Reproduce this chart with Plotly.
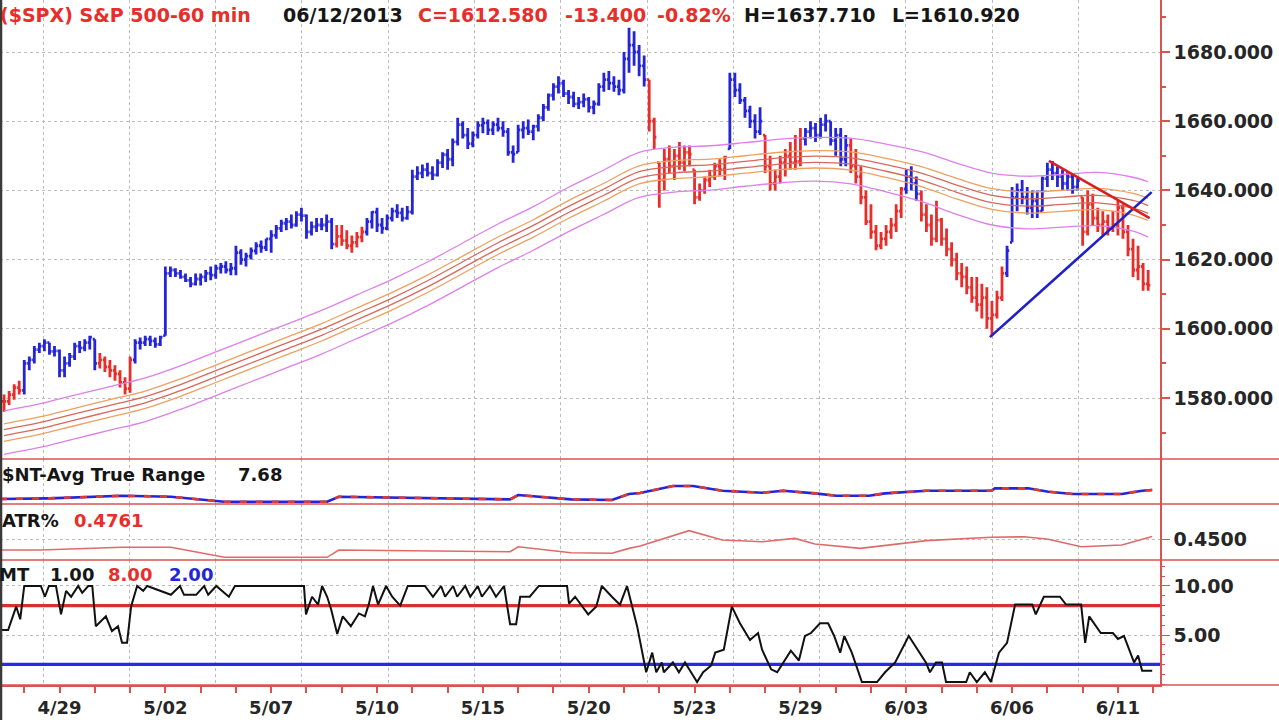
import plotly.graph_objects as go

# ---------------- data ----------------
DAYS = ['4/26', '4/29', '4/30', '5/01', '5/02', '5/03', '5/06', '5/07', '5/08', '5/09',
        '5/10', '5/13', '5/14', '5/15', '5/16', '5/17', '5/20', '5/21', '5/22', '5/23',
        '5/24', '5/28', '5/29', '5/30', '5/31', '6/03', '6/04', '6/05', '6/06', '6/07',
        '6/10', '6/11', '6/12']
BARS_PER_DAY = 7
FIRST_BAR = 3          # data starts with the 4th hourly bar of 4/26
LABEL_EVERY = 3
LABEL_OFFSET = 1

HIGH = [
    1581, 1582, 1584, 1585,
    1591, 1592, 1595, 1596, 1597, 1596, 1595,
    1594, 1592, 1593, 1596, 1596.5, 1597, 1598,
    1597, 1593, 1592, 1591, 1589.5, 1588, 1586,
    1592, 1597, 1597.5, 1598, 1598, 1597.5, 1598,
    1618, 1618, 1617.5, 1617, 1616, 1615, 1616,
    1616, 1617, 1618, 1618.5, 1619, 1619.5, 1619,
    1624, 1623, 1622, 1623.5, 1625, 1625.5, 1626,
    1628.5, 1630, 1631.5, 1632, 1633, 1634, 1635,
    1633, 1631, 1632, 1632, 1633, 1632, 1630,
    1630, 1628.5, 1627, 1628, 1629.5, 1632, 1634,
    1635, 1632, 1633, 1635, 1636, 1635, 1635.5,
    1646, 1647, 1647.5, 1648, 1647, 1649, 1651,
    1652, 1655, 1661, 1660, 1658, 1657, 1660,
    1661, 1660.5, 1660, 1661, 1660, 1658, 1653,
    1659, 1660, 1660.5, 1659, 1662, 1665, 1668,
    1671, 1673, 1672, 1669, 1668.5, 1667, 1668,
    1667, 1666, 1671, 1674, 1674.5, 1673, 1672,
    1680, 1687, 1686, 1682, 1679, 1672, 1661,
    1648, 1652, 1653, 1652, 1654, 1653, 1653,
    1646, 1642, 1644, 1646, 1648, 1649, 1650,
    1674, 1674, 1671, 1667, 1664.5, 1662, 1664,
    1656, 1650, 1646, 1650, 1652, 1654, 1656,
    1658, 1658, 1660, 1659.5, 1661, 1662, 1660,
    1658, 1658, 1656, 1655, 1652, 1647, 1640,
    1636, 1630, 1628, 1630, 1632, 1636, 1641,
    1646, 1647, 1644, 1640, 1636, 1633, 1637,
    1632, 1629, 1625, 1622, 1619, 1618, 1615,
    1615, 1613, 1612, 1608, 1611, 1618, 1624,
    1641, 1642, 1643, 1641, 1640, 1640, 1644,
    1648, 1648.5, 1647, 1646, 1645.5, 1645, 1644,
    1638, 1640, 1639, 1635, 1634, 1633, 1634,
    1637, 1636, 1630, 1626, 1624, 1619, 1617,
]
LOW = [
    1576, 1578, 1579.5, 1581,
    1581, 1588, 1590, 1593, 1593.5, 1592.5, 1592,
    1586, 1586, 1589, 1591, 1593, 1593.5, 1594,
    1588, 1588.5, 1587.5, 1586, 1585, 1583, 1581,
    1581.5, 1590, 1594, 1595, 1595, 1594.5, 1595,
    1598, 1615, 1615, 1614.5, 1613.5, 1612, 1612.5,
    1612.5, 1613.5, 1614, 1614.5, 1616, 1616, 1615.5,
    1615.5, 1618.5, 1618, 1620, 1621.5, 1622, 1622.5,
    1622, 1626, 1628, 1628.5, 1629, 1629.5, 1631,
    1626, 1627, 1628, 1628.5, 1628, 1623, 1623.5,
    1624, 1623, 1622, 1623.5, 1625, 1627, 1629,
    1628, 1627.5, 1628.5, 1631, 1632, 1631, 1631.5,
    1633, 1643, 1643.5, 1644, 1643, 1644, 1646.5,
    1646, 1647, 1653, 1655, 1652, 1652.5, 1655,
    1656.5, 1656, 1656, 1657, 1655.5, 1650, 1648,
    1651, 1655, 1656, 1654.5, 1657, 1660, 1663,
    1666, 1668, 1667, 1665, 1664, 1663.5, 1664,
    1662.5, 1662, 1664.5, 1668.5, 1669, 1668.5, 1667.5,
    1668, 1674, 1676, 1673, 1670, 1657, 1652,
    1635, 1640, 1645, 1643, 1646, 1645.5, 1647,
    1636, 1637, 1639, 1641, 1643, 1644, 1643,
    1652, 1667, 1665, 1661, 1658, 1655, 1656,
    1645, 1640, 1640, 1642, 1644, 1646, 1646,
    1647, 1653, 1655, 1654, 1655, 1657, 1653,
    1650, 1647, 1647, 1645, 1642, 1636, 1630,
    1626, 1622.7, 1623, 1624, 1626, 1628, 1632,
    1639, 1640, 1637, 1631, 1628, 1624, 1625,
    1624, 1621, 1618, 1614, 1612, 1610, 1607.5,
    1605, 1603, 1600, 1598, 1603, 1608, 1615,
    1625, 1634, 1636, 1633, 1632, 1632, 1634,
    1641, 1643, 1641, 1640, 1640, 1639, 1640,
    1624, 1627, 1630, 1628, 1627, 1627, 1628,
    1627, 1626, 1621, 1615, 1614, 1611, 1611,
]
CLOSE = [
    1579, 1581, 1583, 1582.2,
    1590, 1591, 1594, 1595, 1596, 1593.5, 1593.6,
    1588, 1590, 1592, 1595, 1594.5, 1596, 1597.6,
    1590, 1591, 1589, 1588, 1587, 1584.5, 1582.7,
    1591, 1596, 1596, 1597, 1596.5, 1595.5, 1597.6,
    1616, 1617, 1616, 1615, 1614, 1613, 1614.4,
    1615, 1616, 1615.5, 1617.5, 1618, 1617, 1617.5,
    1622, 1620, 1621, 1622.5, 1624, 1623.5, 1626,
    1627, 1629, 1630.5, 1631, 1630, 1633, 1632.7,
    1628, 1629.5, 1630, 1630, 1631, 1624.5, 1626.7,
    1625.5, 1624, 1625, 1626.5, 1628, 1631, 1633.7,
    1630, 1629, 1632, 1634, 1633.5, 1632, 1633.8,
    1644, 1645, 1646, 1645, 1644.5, 1648, 1650.3,
    1649, 1654, 1659, 1656, 1653.5, 1656, 1658.8,
    1659.5, 1657.5, 1659, 1658, 1657, 1651, 1650.5,
    1657.5, 1658, 1657, 1658.5, 1661, 1664, 1667.5,
    1670, 1671, 1668, 1667, 1665, 1665.5, 1666.3,
    1664, 1665, 1670, 1672, 1671, 1670, 1669,
    1678, 1682, 1680, 1676, 1672, 1660, 1655.4,
    1643, 1649, 1647, 1650, 1648, 1651, 1650.5,
    1638, 1640, 1643, 1644, 1647, 1646, 1649.6,
    1672, 1669, 1666, 1663, 1660, 1657, 1660,
    1647, 1642, 1644, 1648, 1650, 1648, 1648.4,
    1655, 1657, 1658, 1656, 1659, 1660, 1654.4,
    1656, 1649, 1653, 1647, 1644, 1638, 1631,
    1628, 1624, 1626, 1628, 1630, 1634, 1640.4,
    1644, 1642, 1639, 1633, 1630, 1626, 1631.4,
    1626, 1623, 1620, 1616, 1615, 1612, 1609,
    1607, 1609, 1603, 1604, 1609, 1616, 1622.6,
    1638, 1640, 1638, 1635, 1637, 1634, 1643.4,
    1646, 1645, 1644, 1642, 1644, 1641, 1642.8,
    1628, 1636, 1632, 1630, 1631, 1629, 1630,
    1635, 1628, 1623, 1617, 1618, 1613, 1612.6,
]
# bar colour runs: 'b' = up-trend (blue), 'r' = down-trend (red)
COLOR_RUNS = [('r', 4), ('b', 15), ('r', 7), ('b', 40), ('r', 6), ('b', 56), ('r', 16),
              ('b', 7), ('r', 8), ('b', 9), ('r', 11), ('b', 3), ('r', 17), ('b', 15), ('r', 14)]

# envelope: mid line and outer half width, sampled mid-day (plus last bar)
BAND_MID = [1570, 1572, 1574.5, 1577, 1579.5, 1583, 1587, 1591, 1595, 1599, 1603.5,
            1608, 1613, 1618.5, 1624, 1629, 1634.5, 1639.5, 1644.5, 1646, 1646.5,
            1647.5, 1648.5, 1649, 1648.5, 1646.5, 1644, 1640.5, 1637.5, 1636.5, 1637,
            1637.5, 1636, 1634.5]
BAND_HALF = [6.3, 6.3, 6.3, 6.3, 6.3, 6.3, 6.3, 6.3, 6.3, 6.3, 6.3, 6.3, 6.3, 6.3, 6.3,
             6.3, 6.4, 6.4, 6.5, 6.5, 6.4, 6.3, 6.3, 6.3, 6.6, 6.9, 7.2, 7.4, 7.5, 7.6,
             7.6, 7.7, 7.8, 8.0]
BAND_INNER = [0.40, 0.14]

TREND_UP_X = [198.6, 230.7]
TREND_UP_Y = [1597.6, 1639.5]
TREND_DN_X = [210.3, 230.3]
TREND_DN_Y = [1648.5, 1632.0]

ATR_X = [2.2, 11.9, 26.4, 36.1, 46.7, 67.1, 69.4, 83.2, 103.4, 105.0, 115.5, 123.6, 127.0,
         129.2, 135.7, 139.7, 145.5, 153.4, 157.6, 163.9, 168.1, 174.6, 177.8, 186.0, 198.9,
         199.6, 206.2, 210.2, 215.1, 224.8, 228.8, 230.8]
ATR_V = [5.27, 5.45, 6.15, 5.88, 4.54, 4.54, 5.88, 5.62, 5.18, 6.34, 5.18, 5.0, 6.61,
         6.88, 8.75, 8.75, 7.5, 6.96, 7.5, 6.78, 6.15, 6.15, 6.78, 7.5, 7.5,
         8.13, 8.13, 7.23, 6.61, 6.61, 7.5, 7.68]

ATRP_X = [2.2, 10.3, 26.4, 36.1, 46.7, 67.1, 69.4, 83.2, 103.4, 105.0, 115.5, 123.6, 127.0,
          129.2, 138.9, 145.5, 153.4, 159.9, 163.9, 172.9, 186.0, 198.9, 205.4, 210.2,
          216.7, 224.8, 230.4, 230.8]
ATRP_V = [0.359, 0.359, 0.382, 0.382, 0.295, 0.295, 0.359, 0.353, 0.344, 0.387, 0.335,
          0.330, 0.373, 0.393, 0.527, 0.446, 0.431, 0.460, 0.411, 0.373, 0.440, 0.469,
          0.474, 0.452, 0.387, 0.402, 0.469, 0.476]

MT_X = [2.2, 3.8, 5.4, 6.2, 7.0, 10.3, 11.1, 11.9, 13.3, 14.3, 15.3, 16.3, 17.7, 18.5, 19.7,
        20.5, 21.2, 23.2, 24.4, 25.6, 26.4, 27.4, 28.2, 29.4, 30.6, 31.4, 36.1, 37.9, 38.7,
        41.1, 42.7, 43.5, 45.1, 47.6, 48.8, 62.5, 62.9, 64.1, 65.3, 66.1, 67.1, 67.9, 69.1,
        70.2, 71.8, 73.4, 74.6, 75.4, 76.2, 77.2, 78.8, 80.0, 81.6, 83.1, 86.5, 88.1, 89.7,
        90.5, 92.1, 92.9, 94.5, 95.5, 97.0, 97.8, 99.4, 100.6, 102.2, 103.4, 104.6, 105.4,
        107.3, 109.1, 114.7, 115.1, 116.3, 118.9, 120.5, 121.6, 123.6, 125.2, 126.6, 128.6,
        130.4, 131.6, 132.4, 133.5, 133.9, 135.7, 136.9, 138.1, 139.3, 140.5, 141.7, 143.3,
        144.1, 145.8, 147.4, 149.0, 151.0, 152.6, 153.4, 155.2, 156.4, 157.6, 159.1, 160.7,
        161.9, 163.1, 164.9, 166.5, 167.7, 168.9, 169.7, 171.2, 173.2, 176.2, 177.8, 179.8,
        182.5, 185.9, 186.7, 187.9, 189.1, 189.9, 193.9, 194.6, 196.0, 197.6, 198.8, 200.4,
        202.0, 203.6, 207.0, 207.7, 209.3, 212.5, 213.7, 216.7, 217.5, 218.3, 220.6, 223.0,
        224.0, 225.2, 227.2, 228.0, 228.8, 230.8]
MT_V = [5.5, 5.5, 7.9, 6.6, 10, 10, 8.9, 10, 10, 7.1, 9.5, 8.9, 10, 9.3, 10,
        10, 5.9, 6.9, 5.4, 5.9, 4.2, 4.2, 7.9, 10, 9.5, 10, 9.1, 10, 9.1,
        9.1, 10, 9.1, 10, 8.9, 10, 10, 7.1, 8.9, 8.1, 10, 8.9, 7.6, 5.1,
        6.9, 5.9, 7.2, 6.9, 8.2, 10, 8.1, 10, 8.9, 8.0, 10, 10, 8.9, 10,
        8.9, 10, 8.9, 10, 8.9, 10, 8.9, 10, 8.9, 10, 6.1, 6.1, 8.9,
        8.9, 10, 10, 8.2, 8.9, 7.1, 7.9, 10, 8.9, 8.1, 10, 5.9,
        1.2, 3.2, 1.2, 2.2, 1.2, 2.2, 1.2, 2.2, 1.2, 0.2, 1.2, 1.9,
        3.2, 3.5, 7.9, 6.2, 4.5, 5.2, 3.5, 1.5, 1.2, 2.2, 3.4, 2.4,
        4.9, 5.2, 6.2, 6.2, 4.9, 3.2, 4.9, 3.2, 0.2, 0.2, 1.2, 2.2,
        4.9, 2.2, 1.2, 2.2, 2.2, 0.2, 0.2, 1.2, 0.2, 1.2, 0.2, 3.2,
        4.2, 8.1, 8.1, 7.1, 8.9, 8.9, 8.1, 8.1, 4.2, 6.9, 5.2, 5.2,
        4.6, 4.9, 2.2, 2.9, 1.35, 1.35]
MT_UPPER = 8
MT_LOWER = 2

PRICE_TICK0, PRICE_DTICK = 1580, 20
ATRP_TICKS = [0.45]
MT_TICKS = [5, 10]

# ---------------- styles ----------------
W, H = 1279, 720
PLOT_RIGHT = 1160
BLUE = '#2525d8'
RED = '#e82e2a'
AXRED = '#d9534f'
GRID = '#bdbdbd'
PINK = '#dd80ea'
INNER_COLS = ['#eea060', '#d8685c', '#d8685c', '#eea060']
FONT = 'DejaVu Sans'
X_RANGE = [2.19, 232.35]

def py(px):
    return 1 - px / H

# ---------------- derived ----------------
n = len(CLOSE)
xs = [FIRST_BAR + k for k in range(n)]
colors = []
for c, cnt in COLOR_RUNS:
    colors += [c] * cnt
opens = []
for k in range(n):
    prev = CLOSE[k - 1] if k > 0 else CLOSE[0]
    opens.append(min(max(prev, LOW[k]), HIGH[k]))

band_x = [BARS_PER_DAY * d + 3 for d in range(len(DAYS))] + [xs[-1]]

fig = go.Figure()

# envelope lines
band_lines = [(1.0, PINK), (BAND_INNER[0], INNER_COLS[0]), (BAND_INNER[1], INNER_COLS[1]),
              (-BAND_INNER[1], INNER_COLS[2]), (-BAND_INNER[0], INNER_COLS[3]), (-1.0, PINK)]
for f, col in band_lines:
    fig.add_trace(go.Scatter(x=band_x, y=[m + f * h for m, h in zip(BAND_MID, BAND_HALF)],
                             mode='lines', line=dict(color=col, width=1.3, shape='spline'),
                             hoverinfo='skip', showlegend=False, xaxis='x', yaxis='y'))

# price bars
for ckey, col in [('b', BLUE), ('r', RED)]:
    idx = [k for k in range(n) if colors[k] == ckey]
    fig.add_trace(go.Ohlc(
        x=[xs[k] for k in idx], open=[opens[k] for k in idx], high=[HIGH[k] for k in idx],
        low=[LOW[k] for k in idx], close=[CLOSE[k] for k in idx],
        increasing=dict(line=dict(color=col, width=2.8)),
        decreasing=dict(line=dict(color=col, width=2.8)),
        tickwidth=0.42, hoverinfo='skip', showlegend=False, xaxis='x', yaxis='y'))

# trend lines
fig.add_trace(go.Scatter(x=TREND_UP_X, y=TREND_UP_Y, mode='lines',
                         line=dict(color='#2020c8', width=2.6), hoverinfo='skip',
                         showlegend=False, xaxis='x', yaxis='y'))
fig.add_trace(go.Scatter(x=TREND_DN_X, y=TREND_DN_Y, mode='lines',
                         line=dict(color='#d82020', width=2.6), hoverinfo='skip',
                         showlegend=False, xaxis='x', yaxis='y'))

# ATR panel
fig.add_trace(go.Scatter(x=ATR_X, y=ATR_V, mode='lines', line=dict(color=BLUE, width=2.6),
                         hoverinfo='skip', showlegend=False, xaxis='x', yaxis='y2'))
fig.add_trace(go.Scatter(x=ATR_X, y=ATR_V, mode='lines',
                         line=dict(color='#e23a2a', width=2.6, dash='7px,9px'),
                         hoverinfo='skip', showlegend=False, xaxis='x', yaxis='y2'))

# ATR% panel
fig.add_trace(go.Scatter(x=ATRP_X, y=ATRP_V, mode='lines', line=dict(color='#e06a6a', width=1.6),
                         hoverinfo='skip', showlegend=False, xaxis='x', yaxis='y3'))

# MT panel
for lvl, col in [(MT_UPPER, '#d83030'), (MT_LOWER, '#2a2ae6')]:
    fig.add_trace(go.Scatter(x=X_RANGE, y=[lvl, lvl], mode='lines',
                             line=dict(color=col, width=3.2), hoverinfo='skip',
                             showlegend=False, xaxis='x', yaxis='y4'))
fig.add_trace(go.Scatter(x=MT_X, y=MT_V, mode='lines', line=dict(color='#111111', width=2),
                         hoverinfo='skip', showlegend=False, xaxis='x', yaxis='y4'))

# ---------------- layout ----------------
tickvals = [BARS_PER_DAY * d + 7 for d in range(len(DAYS))]
ticktext = [DAYS[d] if d % LABEL_EVERY == LABEL_OFFSET else '' for d in range(len(DAYS))]

tickfont = dict(family=FONT, size=19, color='#262626', weight='bold')
common_y = dict(side='right', anchor='x', showline=True, linecolor=AXRED, linewidth=1.5,
                zeroline=False, fixedrange=True, tickfont=tickfont)

fig.update_layout(
    width=W, height=H, margin=dict(l=0, r=0, t=0, b=0),
    paper_bgcolor='white', plot_bgcolor='white', showlegend=False,
    xaxis=dict(domain=[0, PLOT_RIGHT / W], range=X_RANGE, anchor='y4',
               tickmode='array', tickvals=tickvals, ticktext=ticktext,
               ticks='outside', ticklen=6, tickcolor=AXRED, tickwidth=1.5,
               showline=True, linecolor=AXRED, linewidth=1.5, showgrid=False,
               zeroline=False, fixedrange=True,
               tickfont=dict(family=FONT, size=18, color='#262626', weight='bold'),
               rangeslider=dict(visible=False),
               minor=dict(tickmode='linear', tick0=10.73, dtick=17.12, showgrid=True,
                          gridcolor=GRID, griddash='dot', gridwidth=1, ticks='')),
    yaxis=dict(domain=[py(459), 1.0], range=[1562.37, 1695.03],
               tickmode='linear', tick0=PRICE_TICK0, dtick=PRICE_DTICK, tickformat='.3f',
               ticks='outside', ticklen=8, tickcolor=AXRED, tickwidth=1.5,
               showgrid=True, gridcolor=GRID, griddash='dot',
               minor=dict(dtick=10, ticks='outside', ticklen=4, tickcolor=AXRED, showgrid=False),
               **common_y),
    yaxis2=dict(domain=[py(504), py(459)], range=[3.93, 16.0], showticklabels=False,
                ticks='', showgrid=False, **common_y),
    yaxis3=dict(domain=[py(560), py(504)], range=[0.2717, 0.7589], tickmode='array',
                tickvals=ATRP_TICKS, tickformat='.4f', ticks='outside', ticklen=8,
                tickcolor=AXRED, showgrid=True, gridcolor=GRID, griddash='dot', **common_y),
    yaxis4=dict(domain=[py(685), py(560)], range=[-0.1, 12.65], tickmode='array',
                tickvals=MT_TICKS, tickformat='.2f', ticks='outside', ticklen=8,
                tickcolor=AXRED, showgrid=True, gridcolor=GRID, griddash='dot',
                minor=dict(dtick=1, ticks='outside', ticklen=3, tickcolor=AXRED, showgrid=False),
                **common_y),
)

# panel separators and left edge
shapes = []
for yy in [459, 504, 560, 685]:
    shapes.append(dict(type='line', xref='paper', yref='paper', x0=0, x1=1, y0=py(yy), y1=py(yy),
                       line=dict(color=AXRED, width=1.6)))
shapes.append(dict(type='line', xref='paper', yref='paper', x0=0.0008, x1=0.0008, y0=0, y1=1,
                   line=dict(color='#3a3a3a', width=2.5)))
fig.update_layout(shapes=shapes)

# header and panel labels
def label(x_px, y_px, text, color, size=19):
    fig.add_annotation(xref='paper', yref='paper', x=x_px / W, y=py(y_px), text=text,
                       showarrow=False, xanchor='left', yanchor='middle',
                       font=dict(family=FONT, size=size, color=color, weight='bold'))

BLACK = '#161616'
label(-2, 15, '($SPX) S&P 500-60 min', RED)
label(281, 15, '06/12/2013', BLACK)
label(416, 15, 'C=1612.580', RED)
label(563, 15, '-13.400', RED)
label(655, 15, '-0.82%', RED)
label(742, 15, 'H=1637.710', BLACK)
label(890, 15, 'L=1610.920', BLACK)

label(0, 474, '$NT-Avg True Range', BLACK, 18)
label(236, 474, '7.68', BLACK, 18)
label(0, 520, 'ATR%', BLACK, 18)
label(72, 520, '0.4761', RED, 18)
label(-3, 574, 'MT', BLACK, 18)
label(48, 574, '1.00', BLACK, 18)
label(106, 574, '8.00', RED, 18)
label(167, 574, '2.00', BLUE, 18)

fig.write_html('out.html', config={'displayModeBar': False},
               post_script="document.body.style.margin='0px';document.body.style.overflow='hidden';")
